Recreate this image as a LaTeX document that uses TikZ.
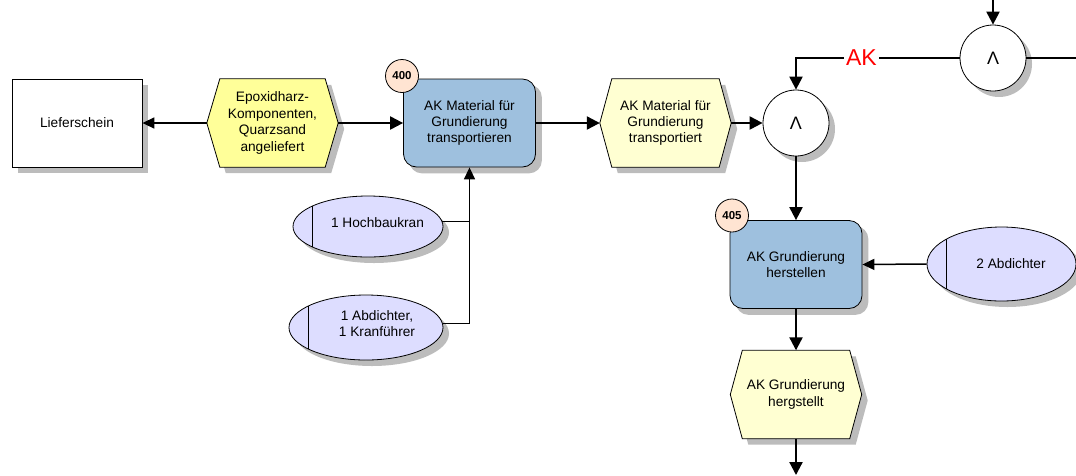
\documentclass[tikz,border=0pt]{standalone}
\usepackage{fontspec}
\setmainfont{Liberation Sans}
\usetikzlibrary{arrows.meta,shapes.geometric,backgrounds}

\definecolor{fnblue}{RGB}{158,192,222}
\definecolor{evyellow}{RGB}{255,255,153}
\definecolor{evpale}{RGB}{255,255,210}
\definecolor{resfill}{RGB}{221,221,255}
\definecolor{badgefill}{RGB}{255,228,210}
\definecolor{shadowgray}{RGB}{188,188,188}

% hexagonal event outline spanned over a rectangular node, optionally offset
\newcommand\hexoutline[4]{([xshift=#3,yshift=#4]#1.west)
  -- ([xshift=#2+#3,yshift=#4]#1.north west) -- ([xshift=-#2+#3,yshift=#4]#1.north east)
  -- ([xshift=#3,yshift=#4]#1.east) -- ([xshift=-#2+#3,yshift=#4]#1.south east)
  -- ([xshift=#2+#3,yshift=#4]#1.south west) -- cycle}
% offset copy of a box outline
\newcommand\boxshadow[1]{([xshift=6pt,yshift=-6pt]#1.north west) rectangle ([xshift=6pt,yshift=-6pt]#1.south east)}

\begin{document}
\begin{tikzpicture}[x=1pt,y=-1pt,
  txt/.style={font=\fontsize{13.7}{16.4}\selectfont, align=center},
  docbox/.style={rectangle, draw, line width=0.8pt, fill=white, minimum width=130pt,
    minimum height=88pt, txt},
  fnbox/.style={rectangle, rounded corners=13pt, draw, line width=0.8pt, fill=fnblue,
    minimum width=132pt, minimum height=88pt, txt},
  evbox/.style={rectangle, minimum width=131pt, minimum height=88pt, inner sep=0pt, txt},
  evshape/.style={draw, line width=0.8pt},
  gate/.style={circle, draw, line width=0.8pt, fill=white, minimum size=66pt, inner sep=0pt,
    font=\fontsize{18}{18}\selectfont},
  badge/.style={circle, draw, line width=0.8pt, fill=badgefill, minimum size=33pt, inner sep=0pt,
    font=\bfseries\fontsize{11.5}{12}\selectfont},
  resnode/.style={ellipse, draw, line width=0.8pt, fill=resfill, inner sep=0pt,
    path picture={\draw[line width=0.8pt]
      ([xshift=19pt]path picture bounding box.north west) --
      ([xshift=19pt]path picture bounding box.south west);}},
  shadowfill/.style={fill=shadowgray, draw=none},
  flow/.style={line width=2.2pt, -{Triangle[length=13pt,width=13pt]}},
  flowline/.style={line width=2.2pt},
  link/.style={line width=1.5pt},
  linkarrow/.style={line width=1.5pt, -{Triangle[length=12pt,width=11pt]}},
  aklabel/.style={fill=white, text=red, inner sep=2pt, font=\fontsize{23}{23}\selectfont},
]
\useasboundingbox (0,0) rectangle (1076,475);

% functions, documents, events and connectors
\node[docbox] (lief) at (77,123) {Lieferschein};
\node[evbox] (ev1) at (272.5,123) {Epoxidharz-\\Komponenten,\\Quarzsand\\angeliefert};
\node[fnbox] (f400) at (469.5,123) {AK Material für\\Grundierung\\transportieren};
\node[badge] (b400) at (402,76) {400};
\node[evbox] (ev2) at (665.5,123) {AK Material für\\Grundierung\\transportiert};
\node[gate] (and1) at (796,123) {Λ};
\node[gate] (and2) at (993,58) {Λ};
\node[fnbox] (f405) at (796,264.5) {AK Grundierung\\herstellen};
\node[badge] (b405) at (732,215.5) {405};
\node[evbox] (ev3) at (796,394.5) {AK Grundierung\\hergstellt};

% resources
\node[resnode, minimum width=150pt, minimum height=61pt,
  label={[txt,xshift=9.5pt,yshift=4pt]center:{1 Hochbaukran}}] (r1) at (368,226.5) {};
\node[resnode, minimum width=154pt, minimum height=65pt,
  label={[txt,xshift=11pt,yshift=4pt]center:{1 Abdichter,\\1 Kranführer}}] (r2) at (366,327.5) {};
\node[resnode, minimum width=149pt, minimum height=74pt,
  label={[txt,xshift=9.5pt]center:{2 Abdichter}}] (r3) at (1001.5,264) {};

% drop shadows and hexagonal event outlines behind the texts
\begin{scope}[on background layer]
  \fill[shadowfill] \boxshadow{lief};
  \fill[shadowfill, rounded corners=13pt] \boxshadow{f400};
  \fill[shadowfill, rounded corners=13pt] \boxshadow{f405};
  \fill[shadowfill] ([xshift=6pt,yshift=-6pt]and1.center) circle[radius=33pt];
  \fill[shadowfill] ([xshift=6pt,yshift=-6pt]and2.center) circle[radius=33pt];
  \fill[shadowfill] ([xshift=6pt,yshift=-6pt]r1.center) ellipse[x radius=75pt, y radius=30.5pt];
  \fill[shadowfill] ([xshift=6pt,yshift=-6pt]r2.center) ellipse[x radius=77pt, y radius=32.5pt];
  \fill[shadowfill] ([xshift=6pt,yshift=-6pt]r3.center) ellipse[x radius=74.5pt, y radius=37pt];
  \fill[shadowfill] \hexoutline{ev1}{13pt}{6pt}{-6pt};
  \fill[shadowfill] \hexoutline{ev2}{12pt}{6pt}{-6pt};
  \fill[shadowfill] \hexoutline{ev3}{12pt}{6pt}{-6pt};
  \path[evshape, fill=evyellow] \hexoutline{ev1}{13pt}{0pt}{0pt};
  \path[evshape, fill=evpale] \hexoutline{ev2}{12pt}{0pt}{0pt};
  \path[evshape, fill=evpale] \hexoutline{ev3}{12pt}{0pt}{0pt};
\end{scope}

\coordinate (topin) at (993,0);
\coordinate (rightout) at (1076,58);
\coordinate (bottomout) at (796,475);

% control flow
\draw[linkarrow] (ev1.west) -- (lief.east);
\draw[flow] (ev1.east) -- (f400.west);
\draw[flow] (f400.east) -- (ev2.west);
\draw[flow] (ev2.east) -- (and1.west);
\draw[flow] (topin) -- (and2.north);
\draw[flowline] (and2.east) -- (rightout);
\draw[flow] (and2.west) -| node[pos=0.3, aklabel] (ak) {AK} (and1.north);
\draw[flow] (and1.south) -- (f405.north);
\draw[flow] (f405.south) -- (ev3.north);
\draw[flow] (ev3.south) -- (bottomout);

% resource assignments
\draw[link] (r1.4) -- (r1.4 -| f400.south);
\draw[linkarrow] (r2.3) -| (f400.south);
\draw[linkarrow] (r3.west) -- (f405.east);
\end{tikzpicture}
\end{document}
